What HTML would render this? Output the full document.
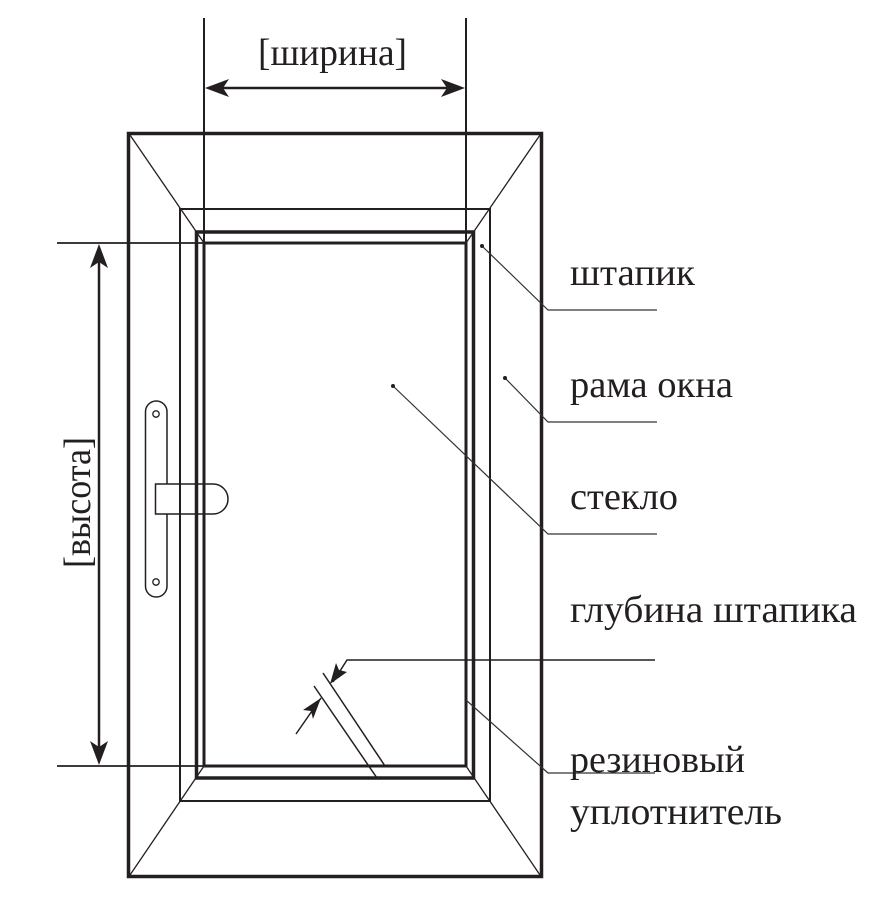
<!DOCTYPE html>
<html><head><meta charset="utf-8"><style>
html,body{margin:0;padding:0;background:#fff;}
svg{display:block;}
text{font-family:"Liberation Serif",serif;fill:#231f20;}
</style></head><body>
<svg width="891" height="915" viewBox="0 0 891 915" xmlns="http://www.w3.org/2000/svg">
<rect width="891" height="915" fill="#fff"/>
<!-- handle -->
<rect x="145.5" y="401" width="21.5" height="196" rx="10.75" fill="#fff" stroke="#231f20" stroke-width="1.5"/>
<circle cx="156" cy="414" r="3.2" fill="none" stroke="#231f20" stroke-width="1.3"/>
<circle cx="156" cy="582" r="3.2" fill="none" stroke="#231f20" stroke-width="1.3"/>
<path d="M155.5 484 H213 A15 15 0 0 1 213 514 H155.5 Z" fill="#fff" stroke="#231f20" stroke-width="1.5"/>
<g stroke="#231f20" fill="none">
<rect x="128.5" y="133.5" width="413" height="743" stroke-width="3.5"/>
<g stroke-width="1.3">
<line x1="130" y1="135" x2="204" y2="243"/>
<line x1="540" y1="135" x2="466" y2="243"/>
<line x1="130" y1="875" x2="204" y2="766"/>
<line x1="540" y1="875" x2="466" y2="766"/>
</g>
<rect x="180" y="209" width="310" height="592" stroke-width="2"/>
<rect x="196.5" y="232" width="277" height="546" stroke-width="3.5"/>
<rect x="204" y="243" width="262" height="523" stroke-width="3"/>
<line x1="204" y1="18" x2="204" y2="243" stroke-width="2"/>
<line x1="466" y1="18" x2="466" y2="243" stroke-width="2"/>
<line x1="210" y1="88" x2="460" y2="88" stroke-width="2.5"/>
<line x1="57" y1="243" x2="204" y2="243" stroke-width="1.8"/>
<line x1="57" y1="766" x2="204" y2="766" stroke-width="1.8"/>
<line x1="99" y1="250" x2="99" y2="759" stroke-width="2.5"/>
<g stroke-width="1.5">
<line x1="323" y1="673" x2="385" y2="766"/>
<line x1="314" y1="686" x2="377" y2="778"/>
<line x1="296" y1="734" x2="321" y2="698"/>
<polyline points="655,660 347,660 333,682"/>
</g>
<g stroke-width="1.2" stroke="#333">
<polyline points="482,246 548,310 657,310"/>
<polyline points="505,378 548,422 657,422"/>
<polyline points="393,386 548,534 657,534"/>
<polyline points="466,700 548,773 655,773"/>
</g>
</g>
<g fill="#231f20">
<circle cx="482" cy="246" r="2"/>
<circle cx="505" cy="378" r="2"/>
<circle cx="393" cy="386" r="2"/>
<path d="M205 88 L229 79 L223 88 L229 97 Z"/>
<path d="M465 88 L441 79 L447 88 L441 97 Z"/>
<path d="M99 244 L90 268 L99 262 L108 268 Z"/>
<path d="M99 765 L90 741 L99 747 L108 741 Z"/>
<path d="M321 698 L303 710 L311 711 L313 719 Z"/>
<path d="M330 684 L347 672 L339 670 L336 663 Z"/>
</g>
<text x="258" y="65" font-size="38" textLength="149" lengthAdjust="spacingAndGlyphs">[ширина]</text>
<text transform="translate(90 568) rotate(-90)" font-size="38" textLength="131" lengthAdjust="spacingAndGlyphs">[высота]</text>
<text x="570" y="285" font-size="38" textLength="125" lengthAdjust="spacingAndGlyphs">штапик</text>
<text x="570" y="397" font-size="38" textLength="163" lengthAdjust="spacingAndGlyphs">рама окна</text>
<text x="570" y="509" font-size="38" textLength="108" lengthAdjust="spacingAndGlyphs">стекло</text>
<text x="570" y="622" font-size="38" textLength="287" lengthAdjust="spacingAndGlyphs">глубина штапика</text>
<text x="570" y="772" font-size="38" textLength="175" lengthAdjust="spacingAndGlyphs">резиновый</text>
<text x="570" y="824" font-size="38" textLength="212" lengthAdjust="spacingAndGlyphs">уплотнитель</text>
</svg>
</body></html>
